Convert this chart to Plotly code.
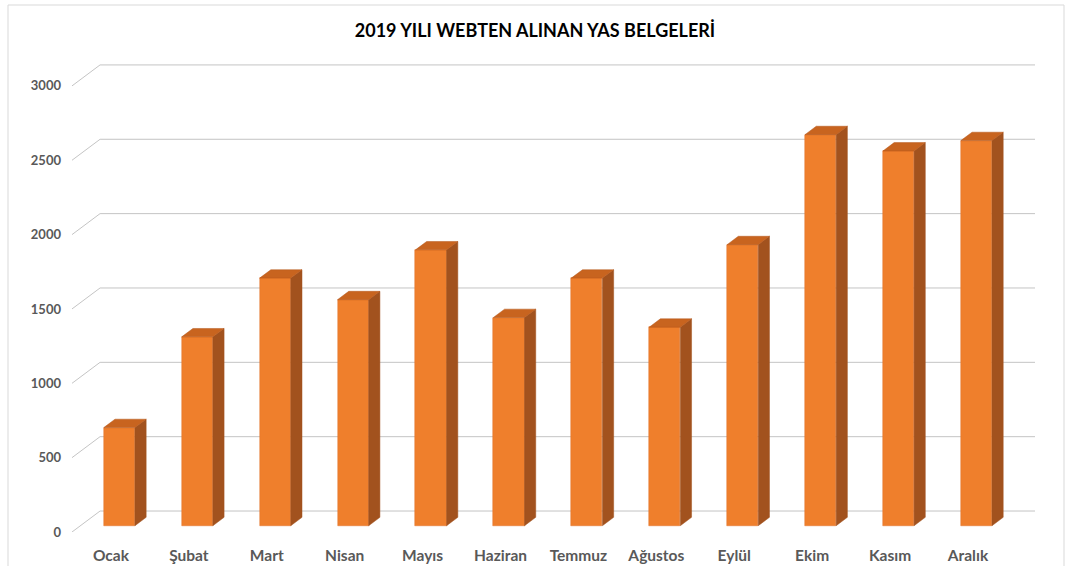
import plotly.graph_objects as go

months = ["Ocak", "Şubat", "Mart", "Nisan", "Mayıs", "Haziran",
          "Temmuz", "Ağustos", "Eylül", "Ekim", "Kasım", "Aralık"]
values = [660, 1270, 1665, 1520, 1855, 1400, 1665, 1335, 1890, 2630, 2520, 2590]
y_ticks = [0, 500, 1000, 1500, 2000, 2500, 3000]
title = "2019 YILI WEBTEN ALINAN YAS BELGELERİ"

# pseudo-3D geometry (in axis units)
DX = 0.36      # full depth offset along x (category units)
DY = 141       # full depth offset along y (value units)
D1, D2 = 0.3, 0.7   # bar front / back depth fractions
W = 0.4        # bar width

FRONT = "#EF7F2C"
SIDE = "#A2521E"
TOP = "#C8641F"
GRID = "#C4C4C4"
TXT = "#595959"

fig = go.Figure()

shapes = []
for t in y_ticks:
    shapes.append(dict(type="line", xref="x", yref="y", x0=-0.5, y0=t,
                       x1=-0.5 + DX, y1=t + DY, line=dict(color=GRID, width=1),
                       layer="below"))
    shapes.append(dict(type="line", xref="x", yref="y", x0=-0.5 + DX, y0=t + DY,
                       x1=11.5 + DX, y1=t + DY, line=dict(color=GRID, width=1),
                       layer="below"))

shapes.append(dict(type="rect", xref="paper", yref="paper",
                   x0=(8 - 72) / 963, x1=(1064 - 72) / 963,
                   y0=(532 - 575) / 472, y1=(532 - 5) / 472,
                   line=dict(color="#D9D9D9", width=1), layer="below"))

xs = list(range(len(months)))
base = D1 * DY
ddx = (D2 - D1) * DX
ddy = (D2 - D1) * DY

fig.add_trace(go.Bar(
    x=[i + D1 * DX for i in xs], y=values, base=base, width=W,
    marker=dict(color=FRONT, line=dict(color="#E2722A", width=0.5)),
    showlegend=False, hoverinfo="skip"))

sx, sy = [], []
for i, v in zip(xs, values):
    x0 = i + D1 * DX + W / 2
    sx += [x0, x0 + ddx, x0 + ddx, x0, x0, None]
    sy += [base, base + ddy, base + v + ddy, base + v, base, None]
fig.add_trace(go.Scatter(x=sx, y=sy, mode="lines", fill="toself",
                         fillcolor=SIDE, line=dict(color=SIDE, width=0.5),
                         showlegend=False, hoverinfo="skip"))

tx, ty = [], []
for i, v in zip(xs, values):
    xl = i + D1 * DX - W / 2
    xr = i + D1 * DX + W / 2
    top = base + v
    tx += [xl, xl + ddx, xr + ddx, xr, xl, None]
    ty += [top, top + ddy, top + ddy, top, top, None]
fig.add_trace(go.Scatter(x=tx, y=ty, mode="lines", fill="toself",
                         fillcolor=TOP, line=dict(color="#B5561A", width=0.5),
                         showlegend=False, hoverinfo="skip"))

fig.update_layout(
    width=1069, height=566,
    margin=dict(l=72, r=34, t=60, b=34, autoexpand=False),
    paper_bgcolor="white", plot_bgcolor="white",
    title=dict(text=title, x=535 / 1069, xref="container", xanchor="center",
               y=1 - 31 / 566, yanchor="middle",
               font=dict(family="Lato", size=18, color="black", weight="bold")),
    shapes=shapes,
    bargap=0,
)
fig.update_xaxes(range=[-0.5, 11.5 + DX], tickmode="array", tickvals=xs,
                 ticktext=months, showgrid=False, zeroline=False, showline=False,
                 ticks="", ticklabelstandoff=12, automargin=False,
                 tickfont=dict(family="Lato", size=15.5, color=TXT, weight="bold"))
fig.update_yaxes(range=[0, 472 / 0.1487], tickmode="array", tickvals=y_ticks,
                 ticktext=[str(t) for t in y_ticks], showgrid=False,
                 zeroline=False, showline=False, ticks="", ticklabelstandoff=10,
                 automargin=False,
                 tickfont=dict(family="Lato", size=13, color=TXT, weight="bold"))

fig.write_html("out.html", config={"displayModeBar": False},
               post_script="document.body.style.margin='0';")
